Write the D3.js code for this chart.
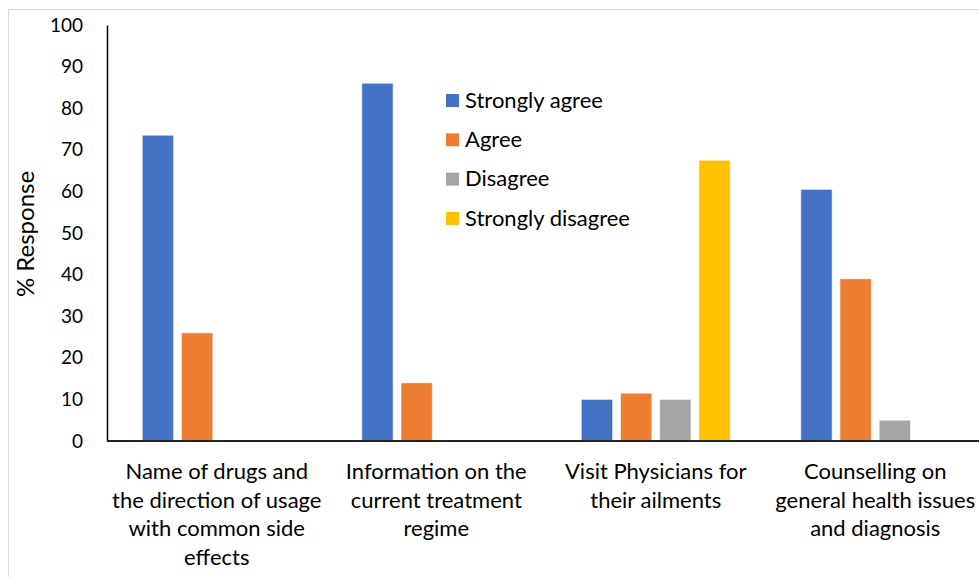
<!DOCTYPE html>
<html>
<head>
<meta charset="utf-8">
<script src="https://cdn.jsdelivr.net/npm/d3@7"></script>
<style>
  body { margin: 0; background: #fff; }
  svg { display: block; font-family: Lato, "Noto Sans", sans-serif; }
</style>
</head>
<body>
<div id="chart"></div>
<script>
const WIDTH = 979;
const HEIGHT = 577;

// data
const categories = [
  "Name of drugs and the direction of usage with common side effects",
  "Information on the current treatment regime",
  "Visit Physicians for their ailments",
  "Counselling on general health issues and diagnosis"
];
const categoryLines = [
  ["Name of drugs and", "the direction of usage", "with common side", "effects"],
  ["Information on the", "current treatment", "regime"],
  ["Visit Physicians for", "their ailments"],
  ["Counselling on", "general health issues", "and diagnosis"]
];
const seriesNames = ["Strongly agree", "Agree", "Disagree", "Strongly disagree"];
const seriesColors = ["#4472C4", "#ED7D31", "#A5A5A5", "#FFC000"];
const stronglyAgree = [73.5, 86, 10, 60.5];
const agree = [26, 14, 11.5, 39];
const disagree = [0, 0, 10, 5];
const stronglyDisagree = [0, 0, 67.5, 0];
const yTicks = [0, 10, 20, 30, 40, 50, 60, 70, 80, 90, 100];

const values = [stronglyAgree, agree, disagree, stronglyDisagree];
const rows = [];
categories.forEach((c, i) => {
  seriesNames.forEach((s, j) => {
    rows.push({ cat: c, series: s, value: values[j][i], color: seriesColors[j] });
  });
});

const plot = { left: 107, top: 25, right: 985, bottom: 441 };

const svg = d3.select('#chart').append('svg')
  .attr('width', WIDTH)
  .attr('height', HEIGHT);

// chart frame (cut off at right/bottom in the original)
svg.append('rect')
  .attr('x', 8.5).attr('y', 9.5)
  .attr('width', WIDTH + 20).attr('height', HEIGHT + 20)
  .attr('fill', 'none')
  .attr('stroke', '#d9d9d9')
  .attr('stroke-width', 1);

const x0 = d3.scaleBand()
  .domain(categories)
  .range([plot.left, plot.right])
  .padding(0);

const x1 = d3.scaleBand()
  .domain(seriesNames)
  .range([0, x0.bandwidth()])
  .paddingInner(0.2)
  .paddingOuter(0.9);

const y = d3.scaleLinear()
  .domain([0, 100])
  .range([plot.bottom, plot.top]);

// bars
svg.append('g')
  .selectAll('rect')
  .data(rows.filter(d => d.value > 0))
  .enter()
  .append('rect')
  .attr('x', d => x0(d.cat) + x1(d.series))
  .attr('y', d => y(d.value))
  .attr('width', x1.bandwidth())
  .attr('height', d => y(0) - y(d.value))
  .attr('fill', d => d.color)
  .attr('stroke', '#fff')
  .attr('stroke-opacity', 0.6)
  .attr('stroke-width', 1);

// y axis
const yAxis = svg.append('g')
  .attr('transform', 'translate(' + plot.left + ',0)')
  .call(d3.axisLeft(y).tickValues(yTicks).tickSize(0).tickPadding(24));
yAxis.select('.domain').attr('stroke', '#000').attr('stroke-width', 1.5);
yAxis.selectAll('text')
  .attr('font-size', 19)
  .attr('fill', '#000')
  .style('font-family', 'Lato, sans-serif');

// x axis line
svg.append('line')
  .attr('x1', plot.left).attr('x2', WIDTH)
  .attr('y1', y(0)).attr('y2', y(0))
  .attr('stroke', '#222')
  .attr('stroke-width', 2);

// category labels
const catLabels = svg.append('g')
  .selectAll('text')
  .data(categories)
  .enter()
  .append('text')
  .attr('text-anchor', 'middle')
  .attr('font-size', 22)
  .attr('fill', '#000')
  .attr('transform', d => 'translate(' + (x0(d) + x0.bandwidth() / 2) + ',479)');
catLabels.selectAll('tspan')
  .data((d, i) => categoryLines[i])
  .enter()
  .append('tspan')
  .attr('x', 0)
  .attr('dy', (d, i) => i === 0 ? 0 : 28.5)
  .text(d => d);

// y title
svg.append('text')
  .attr('transform', 'translate(34,234) rotate(-90)')
  .attr('text-anchor', 'middle')
  .attr('font-size', 24)
  .attr('fill', '#000')
  .text('% Response');

// legend
const legend = svg.append('g')
  .attr('transform', 'translate(446,100)');
const items = legend.selectAll('g')
  .data(seriesNames)
  .enter()
  .append('g')
  .attr('transform', (d, i) => 'translate(0,' + (i * 39.3) + ')');
items.append('rect')
  .attr('x', 0).attr('y', -6)
  .attr('width', 13).attr('height', 13)
  .attr('fill', (d, i) => seriesColors[i]);
items.append('text')
  .attr('x', 19)
  .attr('dy', '0.35em')
  .attr('font-size', 22)
  .attr('fill', '#000')
  .text(d => d);
</script>
</body>
</html>
